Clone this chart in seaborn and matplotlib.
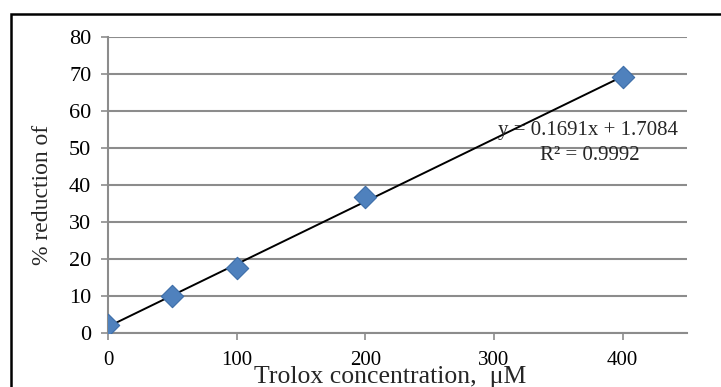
import matplotlib
matplotlib.use("Agg")
import matplotlib.pyplot as plt
import seaborn as sns
import pandas as pd
import numpy as np
from matplotlib.patches import Rectangle

# Trolox standard curve
concentration = [0, 50, 100, 200, 400]
reduction = [2.2, 10.0, 17.6, 36.8, 69.3]
slope = 0.1691
intercept = 1.7084
r_squared = 0.9992
x_ticks = [0, 100, 200, 300, 400]
y_ticks = [0, 10, 20, 30, 40, 50, 60, 70, 80]

sns.set_theme(style="white")
plt.rcParams["font.family"] = ["Liberation Serif", "DejaVu Serif"]

W, H = 721, 387
fig = plt.figure(figsize=(W / 100, H / 100), dpi=100)
ax = fig.add_axes([108 / W, 1 - 333 / H, (687 - 108) / W, (333 - 37) / H])

df = pd.DataFrame({"conc": concentration, "red": reduction})

# fitted trend line
fit_x = np.array([min(concentration), max(concentration)])
fit = pd.DataFrame({"conc": fit_x, "red": slope * fit_x + intercept})
sns.lineplot(data=fit, x="conc", y="red", ax=ax, color="black", lw=1.4, zorder=3)

sns.scatterplot(data=df, x="conc", y="red", ax=ax, marker="D", s=130,
                color="#4F81BD", edgecolor="#3C6DA8", linewidth=0.8, zorder=4)

ax.set_xlim(0, 450)
ax.set_ylim(0, 80)
ax.set_xticks(x_ticks)
ax.set_yticks(y_ticks)
ax.tick_params(axis="both", colors="#8c8c8c", labelcolor="black",
               length=5, width=1.2, direction="out")
ax.tick_params(axis="x", pad=8, labelsize=15)
ax.tick_params(axis="y", pad=7, labelsize=16)
ax.xaxis.set_ticks_position("bottom")
ax.yaxis.set_ticks_position("left")

ax.grid(axis="y", color="#8c8c8c", lw=1.5)
ax.grid(axis="x", visible=False)
for side in ["top", "right"]:
    ax.spines[side].set_visible(False)
for side in ["left", "bottom"]:
    ax.spines[side].set_color("#8c8c8c")
    ax.spines[side].set_linewidth(1.5)
ax.set_axisbelow(True)

ax.set_xlabel("")
ax.set_ylabel("")
fig.text(390 / W, 1 - 377 / H, "Trolox concentration,  μM", fontsize=18.5,
         ha="center", va="center")
fig.text(43 / W, 1 - 195 / H, "% reduction of", fontsize=17, rotation=90,
         ha="center", va="center")

ax.text(678, H - 131, f"y = {slope}x + {intercept}", transform=None,
        ha="right", va="center", fontsize=15)
ax.text(590, H - 155, f"R² = {r_squared}", transform=None,
        ha="center", va="center", fontsize=15)

# chart frame
fig.patches.append(Rectangle((11 / W, -0.1), 1.2, 1 - 14 / H + 0.1,
                             transform=fig.transFigure, fill=False,
                             edgecolor="black", lw=1.8))

fig.savefig("out.png", dpi=100)
